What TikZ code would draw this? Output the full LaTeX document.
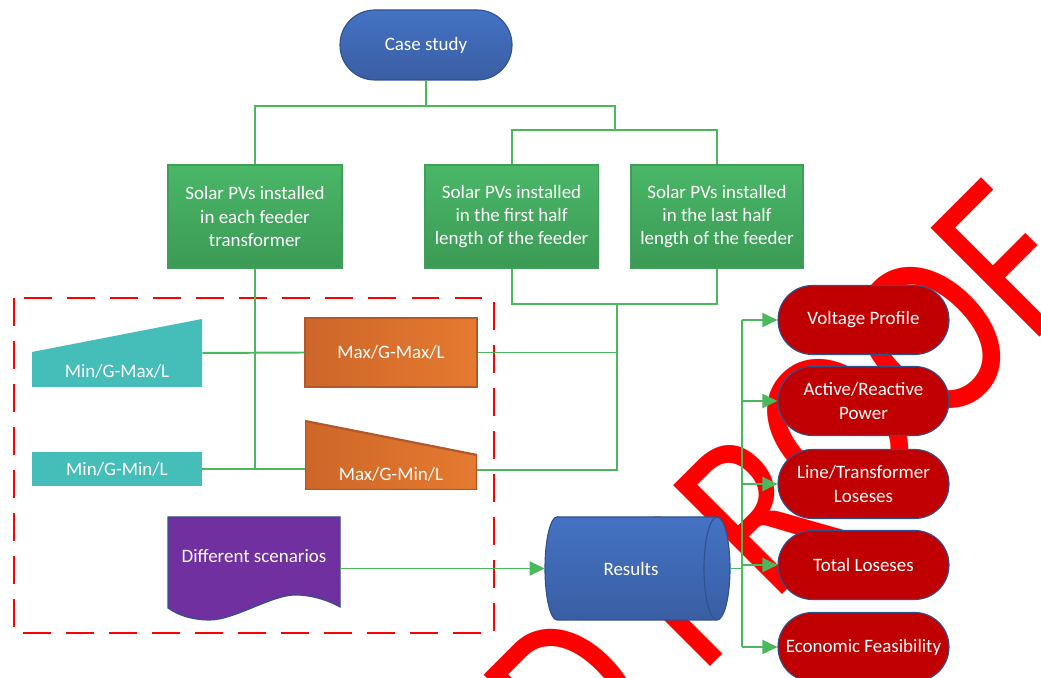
\documentclass[tikz,border=0pt]{standalone}
\usepackage{fontspec}
\setmainfont{Carlito}
\usepackage{xcolor}
\usepackage{graphicx}
\usepackage{tikz}
\usetikzlibrary{arrows.meta}
\definecolor{CSBlue}{HTML}{4472C4}
\definecolor{CSBlueDark}{HTML}{3A5EA3}
\definecolor{CSLine}{HTML}{2F528F}
\definecolor{PVGreen}{HTML}{4AB767}
\definecolor{PVGreenDark}{HTML}{3B9A55}
\definecolor{PVLine}{HTML}{3F9E58}
\definecolor{LinkGreen}{HTML}{4CB85E}
\definecolor{MinTeal}{HTML}{45BDB9}
\definecolor{MaxOrange}{HTML}{E57A30}
\definecolor{MaxOrangeDark}{HTML}{CD6628}
\definecolor{MaxLine}{HTML}{B3582A}
\definecolor{ScenPurple}{HTML}{7030A0}
\definecolor{ResRed}{HTML}{C00000}
\definecolor{FrameRed}{HTML}{FF0000}

\begin{document}
\begin{tikzpicture}[x=1cm,y=1cm,
  boxtext/.style={text=white,font=\fontsize{13.5}{16.4}\selectfont,align=center},
  link/.style={LinkGreen,line width=1.4pt},
  flow/.style={link,-{Triangle[length=10.7pt,width=10pt]}},
  pvbox/.style={boxtext,draw=PVLine,line width=0.8pt,top color=PVGreen,bottom color=PVGreenDark,minimum width=4.33cm,minimum height=2.575cm},
  maxbox/.style={boxtext,minimum width=4.30cm,minimum height=1.725cm},
  outcome/.style={boxtext,draw=CSLine,line width=0.8pt,fill=ResRed,rounded corners=0.86cm,minimum width=4.275cm,minimum height=1.725cm}]
\path[use as bounding box] (0,0) rectangle (26.025,16.95);
\begin{scope}
\clip (0,0) rectangle (26.025,16.95);
\node[rotate=45,anchor=base east,inner sep=0pt,text=FrameRed,font=\fontsize{170.7}{171}\selectfont] (proof) at (27.375,9.9) {\scalebox{0.82}[1]{UNCORRECTED PROOF}};
\end{scope}
\draw[FrameRed,line width=1.4pt,dash pattern=on 19.9pt off 10.7pt] (0.35,9.5) rectangle (12.35,1.125);
\path[fill=ScenPurple,draw=CSLine,line width=0.8pt] (4.20,4.025) -- (8.50,4.025) -- (8.50,1.775)
  .. controls (8.15,1.97) and (7.75,2.075) .. (7.375,2.075)
  .. controls (6.80,2.075) and (5.85,1.45) .. (5.25,1.45)
  .. controls (4.80,1.45) and (4.45,1.57) .. (4.20,1.75) -- cycle;
\path[draw=CSLine,line width=0.8pt,top color=CSBlue,bottom color=CSBlueDark] (13.925,4.025) -- (17.925,4.025)
  arc[start angle=90,end angle=-90,x radius=0.325,y radius=1.2875] -- (13.925,1.45)
  arc[start angle=270,end angle=90,x radius=0.30,y radius=1.2875] -- cycle;
\draw[CSLine,line width=0.8pt] (17.925,4.025) arc[start angle=90,end angle=270,x radius=0.325,y radius=1.2875];
\node[boxtext,draw=CSLine,line width=0.8pt,top color=CSBlue,bottom color=CSBlueDark,rounded corners=0.87cm,minimum width=4.30cm,minimum height=1.75cm] (case) at (10.65,15.825) {Case study};
\node[pvbox,minimum width=4.35cm] (pv1) at (6.375,11.5375) {Solar PVs installed\\in each feeder\\transformer};
\node[pvbox] (pv2) at (12.79,11.5375) {Solar PVs installed\\in the first half\\length of the feeder};
\node[pvbox,minimum width=4.30cm] (pv3) at (17.925,11.5375) {Solar PVs installed\\in the last half\\length of the feeder};
\node[minimum width=4.25cm,minimum height=1.70cm,
  path picture={\fill[MinTeal] (path picture bounding box.south west) -- (path picture bounding box.south east) -- (path picture bounding box.north east) -- ([yshift=-0.825cm]path picture bounding box.north west) -- cycle;},
  label={[boxtext,yshift=-0.45cm]center:Min/G-Max/L}] (mgx) at (2.925,8.125) {};
\node[boxtext,fill=MinTeal,minimum width=4.25cm,minimum height=0.85cm] (mnl) at (2.925,5.225) {Min/G-Min/L};
\node[maxbox,draw=MaxLine,line width=0.8pt,left color=MaxOrangeDark,right color=MaxOrange] (mxx) at (9.775,8.1375) {Max/G-Max/L};
\node[maxbox,
  path picture={\path[draw=MaxLine,line width=1.6pt,left color=MaxOrangeDark,right color=MaxOrange] (path picture bounding box.south west) -- (path picture bounding box.south east) -- ([yshift=-0.85cm]path picture bounding box.north east) -- (path picture bounding box.north west) -- cycle;},
  label={[boxtext,yshift=-0.4625cm]center:Max/G-Min/L}] (mxn) at (9.775,5.5625) {};
\node[minimum width=4.30cm,minimum height=2.575cm,
  label={[boxtext,yshift=0.31cm]center:Different scenarios}] (scen) at (6.35,2.7375) {};
\node[minimum width=4.625cm,minimum height=2.575cm,
  label={[boxtext,xshift=-0.1625cm]center:Results}] (res) at (15.9375,2.7375) {};
\node[outcome] (vp) at (21.5875,8.95) {Voltage Profile};
\node[outcome] (ar) at (21.5875,6.925) {Active/Reactive\\Power};
\node[outcome] (lt) at (21.5875,4.85) {Line/Transformer\\Loseses};
\node[outcome] (tl) at (21.5875,2.825) {Total Loseses};
\node[outcome] (ef) at (21.5875,0.775) {Economic Feasibility};
\coordinate (split) at (10.65,14.30);
\coordinate (fork) at (15.375,13.70);
\coordinate (merge) at (15.425,9.35);
\coordinate (bus) at (18.55,0);
\draw[link] (case.south) -- (split);
\draw[link] (pv1.north) |- (split) -| (fork);
\draw[link] (pv2.north) |- (fork) -| (pv3.north);
\draw[link] (pv1.south) -- (pv1.south |- mnl.east);
\draw[link] (mgx.east) -- (mxx.west);
\draw[link] (mnl.east) -- (mxn.west |- mnl.east);
\draw[link] (pv2.south) |- (merge) -| (pv3.south);
\draw[link] (mxx.east) -| (merge);
\draw[link] ([yshift=0.5cm]mxn.south east) -| (merge);
\draw[flow] (scen.east |- res.west) -- (res.west);
\draw[link] (res.east) -- (res.east -| bus);
\draw[link] (vp.west -| bus) -- (ef.west -| bus);
\foreach \n in {vp,ar,lt,tl,ef} \draw[flow] (\n.west -| bus) -- (\n.west);
\end{tikzpicture}
\end{document}
